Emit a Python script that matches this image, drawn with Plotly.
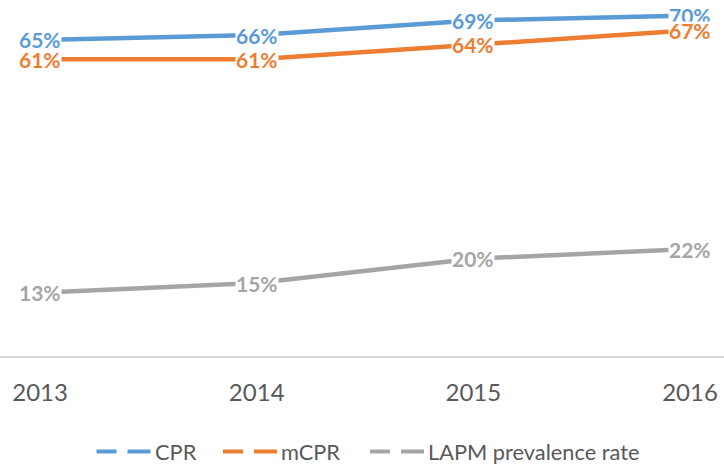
import plotly.graph_objects as go

years = [2013, 2014, 2015, 2016]
year_labels = ["2013", "2014", "2015", "2016"]
series_names = ["CPR", "mCPR", "LAPM prevalence rate"]
cpr = [65, 66, 69, 70]
mcpr = [61, 61, 64, 67]
lapm = [13, 15, 20, 22]

colors = ["#5B9BD5", "#ED7D31", "#A5A5A5"]
W, H = 724, 465
# legend key layout (pixels from left): first dash start
legend_x = [96.5, 223, 370]
legend_y_px = 451.5
plot_bottom_px = 356

fig = go.Figure()
annotations = []
shapes = []
for name, vals, color in zip(series_names, [cpr, mcpr, lapm], colors):
    fig.add_trace(go.Scatter(
        x=years, y=vals, mode="lines", name=name, showlegend=False,
        line=dict(color=color, width=4.5), hoverinfo="skip",
    ))
for name, vals, color in zip(series_names, [cpr, mcpr, lapm], colors):
    for x, v in zip(years, vals):
        annotations.append(dict(
            x=x, y=v, xref="x", yref="y", text=f"<b>{v}%</b>",
            showarrow=False, bgcolor="white", borderpad=0, height=17,
            font=dict(family="Lato", size=21, color=color),
            xanchor="center", yanchor="middle", valign="middle",
        ))

# custom legend (dashed keys)
ly = (plot_bottom_px - legend_y_px) / plot_bottom_px
for name, color, x0 in zip(series_names, colors, legend_x):
    for a, b in [(0, 20), (31, 54)]:
        shapes.append(dict(
            type="line", xref="paper", yref="paper",
            x0=(x0 + a) / W, x1=(x0 + b) / W, y0=ly, y1=ly,
            line=dict(color=color, width=4),
        ))
    annotations.append(dict(
        x=(x0 + 56) / W, y=ly, xref="paper", yref="paper", text=name,
        showarrow=False, xanchor="left", yanchor="middle",
        font=dict(family="Lato", size=21.8, color="#595959"),
    ))

fig.update_layout(
    width=W, height=H,
    margin=dict(l=0, r=0, t=0, b=H - plot_bottom_px),
    plot_bgcolor="white", paper_bgcolor="white",
    annotations=annotations,
    shapes=shapes,
    showlegend=False,
    xaxis=dict(
        range=[2012.815, 2016.157], tickvals=years, ticktext=year_labels,
        showgrid=False, zeroline=False, showline=True, linecolor="#D9D9D9",
        linewidth=1.5, ticks="", tickfont=dict(family="Lato", size=24, color="#595959"),
        ticklabelstandoff=14,
    ),
    yaxis=dict(
        range=[0, 73.2], showgrid=False, zeroline=False, showticklabels=False,
        showline=False, ticks="",
    ),
)

fig.write_html(
    "out.html",
    config={"displayModeBar": False},
    post_script="document.body.style.margin='0';document.body.style.overflow='hidden';",
)
